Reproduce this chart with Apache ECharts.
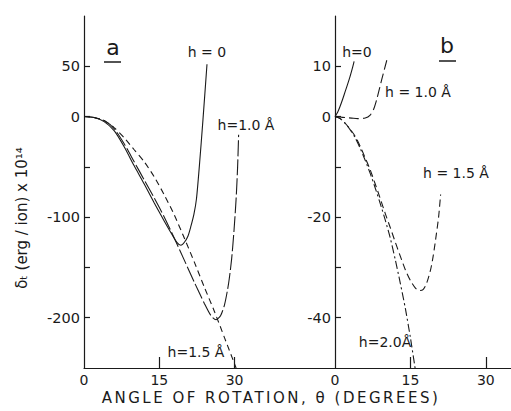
<!DOCTYPE html>
<html>
<head>
<meta charset="utf-8">
<script src="https://cdn.jsdelivr.net/npm/echarts@6/dist/echarts.min.js"></script>
<style>html,body{margin:0;padding:0;background:#fff}#c{width:511px;height:411px}</style>
</head>
<body>
<div id="c"></div>
<script>
// ---------- Panel a ----------
const aH0x  = [0, 2, 4, 6, 8, 10, 12, 14, 16, 17.5, 18.5, 19.3, 20, 20.7, 21.3, 21.9, 22.4, 23, 23.7, 24.5];
const aH0y  = [0, -1, -5, -14, -30, -49, -67, -86, -104, -117, -125, -128, -125, -119, -109, -97, -82, -48, -3, 52];
const aH10x = [0, 2, 4, 6, 8, 10, 12, 14, 16, 18, 20, 22, 24, 25.3, 26.3, 27.2, 28, 28.8, 29.4, 29.9, 30.3, 30.6, 30.8];
const aH10y = [0, -1, -4, -12, -27, -45, -63, -81, -100, -121, -143, -165, -186, -198, -202, -198, -187, -166, -142, -112, -82, -50, -18];
const aH15x = [0, 2, 4, 6, 8, 10, 12, 14, 16, 18, 20, 22, 24, 26, 28, 30.3];
const aH15y = [0, -1, -4, -11, -21, -33, -45, -60, -78, -98, -121, -145, -170, -194, -220, -250];
// ---------- Panel b ----------
const bH0x  = [0, 0.5, 1, 1.5, 2, 2.5, 3, 3.5, 3.8];
const bH0y  = [0, 0.8, 2, 3.4, 4.9, 6.4, 8, 9.8, 11];
const bH10x = [0, 1, 2, 3.3, 4.5, 6, 7, 7.7, 8.3, 9.3, 10.3];
const bH10y = [0, -0.1, -0.2, -0.3, -0.4, -0.3, 0.3, 1.5, 3.4, 7.4, 11.2];
const bH15x = [0, 1, 2, 3, 4, 5, 6, 7, 8, 9, 10, 11, 12, 13, 14, 15, 16, 16.8, 17.5, 18.2, 19, 19.5, 20, 20.6, 21];
const bH15y = [0, -0.4, -1.3, -2.5, -3.9, -5.9, -8.2, -10.6, -13.4, -16.3, -19.3, -22.1, -25, -27.8, -30.5, -32.6, -34.1, -34.6, -34.4, -33.2, -30.5, -27.9, -24.5, -20, -15.5];
const bH20x = [0, 1, 2, 3, 4, 5, 6, 7, 8, 9, 10, 11, 12, 13, 14, 15, 16];
const bH20y = [0, -0.4, -1.3, -2.6, -4.2, -6.3, -8.7, -11.3, -14.2, -17.3, -20.6, -24.2, -28.5, -33.2, -38.2, -44, -50.5];

// ---------- Axis ticks / labels ----------
const xTicks = [15, 30];
const xLabels = [0, 15, 30];
const aYTicks = [-200, -150, -100, -50, 0, 50];
const aYLabels = [-200, -100, 0, 50];
const bYTicks = [-40, -30, -20, -10, 0, 10];
const bYLabels = [-40, -20, 0, 10];

const zip = (xs, ys) => xs.map((x, i) => [x, ys[i]]);
const INK = '#1a1a1a';
const FONT = 'DejaVu Sans';
const TITLE = 'ANGLE OF ROTATION, θ (DEGREES)';

function xAxis(grid, max) {
  return {
    type: 'value', gridIndex: grid, min: 0, max: max,
    axisLine: { show: true, onZero: false, lineStyle: { color: INK, width: 1.2 } },
    axisTick: { show: true, inside: true, length: 11, customValues: xTicks, lineStyle: { color: INK, width: 1.2 } },
    axisLabel: { customValues: xLabels, color: INK, fontFamily: FONT, fontSize: 14, margin: 5 },
    splitLine: { show: false }
  };
}
function yAxis(grid, min, max, ticks, labels) {
  return {
    type: 'value', gridIndex: grid, min: min, max: max,
    axisLine: { show: true, onZero: false, lineStyle: { color: INK, width: 1.2 } },
    axisTick: { show: true, inside: true, length: 6, customValues: ticks, lineStyle: { color: INK, width: 1.2 } },
    axisLabel: { customValues: labels, color: INK, fontFamily: FONT, fontSize: 14.5, margin: 4,
                 formatter: v => String(v) },
    splitLine: { show: false }
  };
}
function line(xi, data, dash) {
  return {
    type: 'line', xAxisIndex: xi, yAxisIndex: xi, data: data,
    smooth: 0.25, showSymbol: false, silent: true,
    lineStyle: { color: INK, width: 1.1, type: dash }
  };
}
function label(x, y, text, size) {
  return { type: 'text', x: x, y: y, style: { text: text, fill: INK, font: (size || 14) + 'px "' + FONT + '"', align: 'center', verticalAlign: 'middle' } };
}

const chart = echarts.init(document.getElementById('c'), null, { renderer: 'svg' });
chart.setOption({
  animation: false,
  backgroundColor: '#fff',
  grid: [
    { left: 84, top: 16, width: 251, height: 352 },
    { left: 335, top: 16, width: 176, height: 352 }
  ],
  xAxis: [xAxis(0, 50), xAxis(1, 35)],
  yAxis: [yAxis(0, -250, 100, aYTicks, aYLabels), yAxis(1, -50, 20, bYTicks, bYLabels)],
  series: [
    line(0, zip(aH0x, aH0y), 'solid'),
    line(0, zip(aH10x, aH10y), [16, 3]),
    line(0, zip(aH15x, aH15y), [6, 4]),
    line(1, zip(bH0x, bH0y), 'solid'),
    line(1, zip(bH10x, bH10y), [10, 4]),
    line(1, zip(bH15x, bH15y), [7, 4]),
    line(1, zip(bH20x, bH20y), [8, 3, 2, 3])
  ],
  graphic: [
    label(113, 47, 'a', 22),
    { type: 'line', shape: { x1: 104, y1: 62, x2: 121, y2: 62 }, style: { stroke: INK, lineWidth: 1.5 } },
    label(447, 45, 'b', 22),
    { type: 'line', shape: { x1: 439, y1: 61, x2: 456, y2: 61 }, style: { stroke: INK, lineWidth: 1.5 } },
    label(207, 52, 'h = 0'),
    label(246, 125, 'h=1.0 Å'),
    label(196, 352, 'h=1.5 Å'),
    label(357, 52, 'h=0'),
    label(418, 92, 'h = 1.0 Å'),
    label(456, 173, 'h = 1.5 Å'),
    label(385, 342, 'h=2.0Å'),
    { type: 'text', x: 22, y: 218, rotation: Math.PI / 2,
      style: { text: 'δₜ (erg / ion) x 10¹⁴', fill: INK, font: '15px "' + FONT + '"', align: 'center', verticalAlign: 'middle' } },
    { type: 'text', x: 271, y: 397.5,
      style: { text: TITLE, fill: INK, font: '15px "' + FONT + '"', align: 'center', verticalAlign: 'middle' } }
  ]
});
// widen letter spacing of the axis title, as in the lettered original
document.querySelectorAll('#c text').forEach(t => {
  if (t.textContent === TITLE) t.setAttribute('letter-spacing', '2.5');
});
</script>
</body>
</html>
